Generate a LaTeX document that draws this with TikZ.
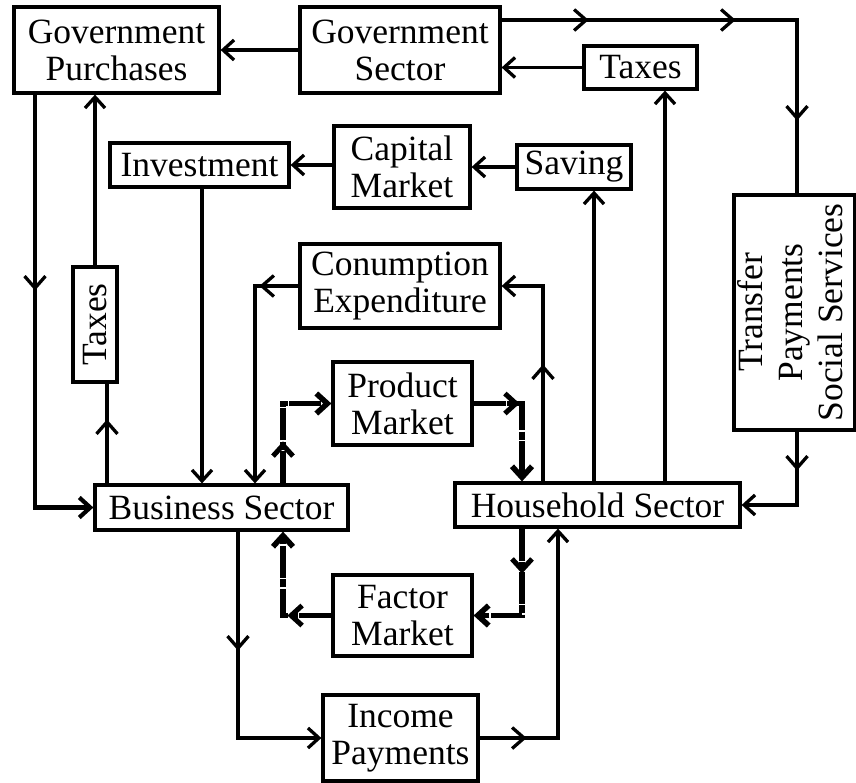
\documentclass[tikz,border=0pt]{standalone}
\usepackage{fontspec}
\usepackage{graphicx}
\setmainfont{Liberation Serif}
\usetikzlibrary{arrows.meta,decorations.markings}
\begin{document}
\begin{tikzpicture}[x=1pt,y=-1pt,
  box/.style={draw,line width=3.2pt,rectangle,inner sep=0pt,align=center,
    font=\fontsize{35.5}{37}\selectfont},
  endbarb/.style={-{Straight Barb[length=11pt,width=20pt]}},
  wire/.style={line width=3.3pt},
  flow/.style={wire,endbarb},
  heavy/.style={line width=5.5pt,endbarb,dash pattern=on 32pt off 1.5pt on 8pt off 1.5pt},
  midtip/.style={postaction={decorate,decoration={markings,
    mark=at position #1 with {\arrow{Straight Barb[length=12pt,width=21pt,line width=3.3pt]}}}}},
  heavymid/.style={postaction={decorate,decoration={markings,
    mark=at position #1 with {\arrow{Straight Barb[length=11pt,width=20pt,line width=5pt]}}}}}
]
% page
\fill[white] (0,0) rectangle (856,782);
\useasboundingbox (0,0) rectangle (856,782);

% boxes
\node[box,minimum width=205pt,minimum height=86pt] (gp) at (116.5,50) {Government\\Purchases};
\node[box,minimum width=200pt,minimum height=86pt] (gs) at (400,50) {Government\\Sector};
\node[box,minimum width=113pt,minimum height=43pt] (taxT) at (640.5,67.5) {Taxes};
\node[box,minimum width=179pt,minimum height=44pt] (inv) at (199.5,165) {Investment};
\node[box,minimum width=136pt,minimum height=82pt] (cap) at (402,167) {Capital\\Market};
\node[box,minimum width=114pt,minimum height=44pt] (sav) at (574,167) {Saving};
\node[box,minimum width=200pt,minimum height=84pt] (con) at (400,286) {Conumption\\Expenditure};
\node[box,minimum width=44pt,minimum height=115pt] (taxL) at (95,324.5) {\rotatebox{90}{Taxes}};
\node[box,minimum width=121pt,minimum height=235pt] (tr) at (794.5,312.5)
  {\rotatebox{90}{\fontsize{35.5}{40}\selectfont\begin{tabular}{@{}c@{}}Transfer\\Payments\\Social Services\end{tabular}}};
\node[box,minimum width=139pt,minimum height=83pt] (pm) at (402.5,403.5) {Product\\Market};
\node[box,minimum width=253pt,minimum height=45pt] (bs) at (221.5,507.5) {Business Sector};
\node[box,minimum width=285pt,minimum height=44pt] (hs) at (597.5,505) {Household Sector};
\node[box,minimum width=139pt,minimum height=81pt] (fm) at (402.5,615.5) {Factor\\Market};
\node[box,minimum width=155pt,minimum height=86pt] (ip) at (400.5,738) {Income\\Payments};

% attachment points
\coordinate (gsR) at ([yshift=30pt]gs.east);
\coordinate (trN) at ([xshift=2.5pt]tr.north);
\coordinate (trS) at ([xshift=2.5pt]tr.south);
\coordinate (hsTax) at ([xshift=67.5pt]hs.north);
\coordinate (hsSav) at ([xshift=-3.5pt]hs.north);
\coordinate (hsCon) at ([xshift=-54.5pt]hs.north);
\coordinate (hsIn) at ([xshift=-75.5pt]hs.north);
\coordinate (hsOut) at ([xshift=-75.5pt]hs.south);
\coordinate (hsInc) at ([xshift=-39.5pt]hs.south);
\coordinate (invS) at ([xshift=2.5pt]inv.south);
\coordinate (gpS) at ([xshift=-81.5pt]gp.south);
\coordinate (bsTax) at ([xshift=-114.5pt]bs.north);
\coordinate (bsCon) at ([xshift=33.5pt]bs.north);
\coordinate (bsPm) at ([xshift=61.5pt]bs.north);
\coordinate (bsFm) at ([xshift=61.5pt]bs.south);
\coordinate (bsInc) at ([xshift=16.5pt]bs.south);

% government flows
\draw[flow] (gs) -- (gp);
\draw[wire,midtip=87pt,midtip=234pt,midtip=396pt] (gsR) -| (trN);
\draw[flow] (taxT.west) -- (taxT.west -| gs.east);
\draw[flow] (hsTax) -- (hsTax |- taxT.south);
\draw[flow,midtip=39pt] (trS) |- (hs.east);
\draw[flow,line width=4.2pt,midtip=196pt] (gpS) |- (bs.west);
\draw[wire,midtip=64pt] (bsTax) -- (bsTax |- taxL.south);
\draw[flow] (taxL.north) -- (taxL.north |- gp.south);

% saving and investment
\draw[flow] (hsSav) -- (hsSav |- sav.south);
\draw[flow] (sav) -- (cap);
\draw[flow] (cap.west |- inv) -- (inv.east);
\draw[flow] (invS) -- (invS |- bs.north);

% consumption
\draw[flow,midtip=117pt] (hsCon) |- (con.east);
\draw[flow,midtip=39pt] (con.west) -| (bsCon);

% markets
\draw[heavy,heavymid=42pt] (bsPm) |- (pm.west);
\draw[heavy,heavymid=46pt] (pm.east) -| (hsIn);
\draw[heavy,heavymid=45pt] (hsOut) |- (fm.east);
\draw[heavy,heavymid=44pt] (fm.west) -| (bsFm);

% income
\draw[flow,midtip=119pt] (bsInc) |- (ip.west);
\draw[flow,midtip=47pt] (ip.east) -| (hsInc);
\end{tikzpicture}
\end{document}
